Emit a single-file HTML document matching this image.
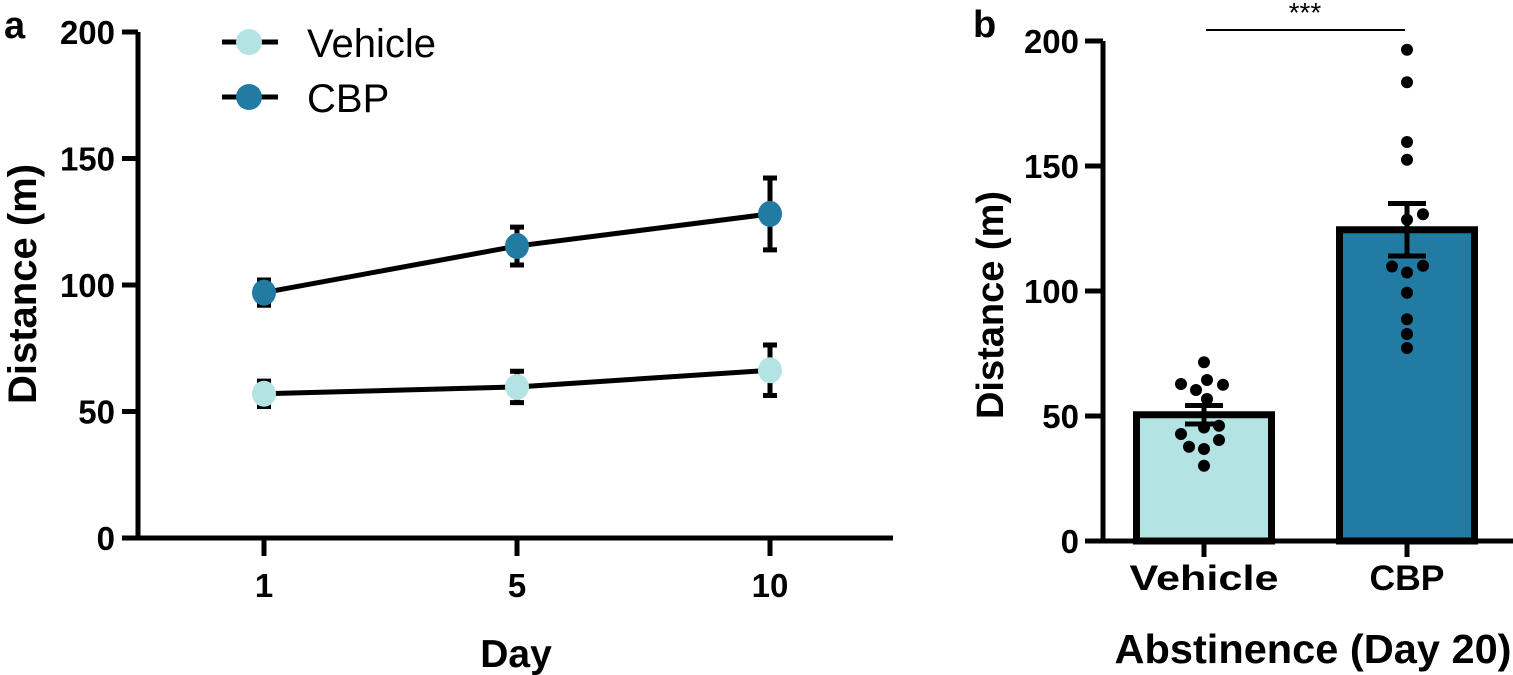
<!DOCTYPE html>
<html><head><meta charset="utf-8"><style>
html,body{margin:0;padding:0;background:#fff;}
svg{display:block;font-family:"Liberation Sans",Arial,sans-serif;}
</style></head><body>
<svg id="fig" width="1513" height="675" viewBox="0 0 1513 675">
<g id="pa"></g>
<g id="pb"></g>
</svg>
<script>
// Panel a data
const days = ["1","5","10"];
const vehicleMean = [57, 59.7, 66.3];
const vehicleSem = [5, 6.2, 10];
const cbpMean = [97, 115.4, 128.1];
const cbpSem = [5, 7.5, 14.2];
const yTicksA = [0, 50, 100, 150, 200];
// Panel b data
const groups = ["Vehicle", "CBP"];
const barMean = [50.5, 124.5];
const barSem = [3.7, 10.5];
const vehPoints = [71.5, 62.8, 64.4, 62.5, 60.4, 56.8, 45.4, 46.1, 42.8, 40.4, 37.7, 36.8, 30.1];
const cbpPoints = [196.5, 183.5, 159.6, 152.5, 130.7, 128.5, 109.8, 110.1, 107.4, 99.3, 88.7, 82.8, 77.2];
const yTicksB = [0, 50, 100, 150, 200];

const vehJit = [0, -23, 3, 19, -8, 3, 0, 15, -23, 15, -15, 0, 0];
const cbpJit = [0, 0, 0, 0, 16, 0, -15, 16, 0, 0, 0, 0, 0];
const C_VEH = "#b3e4e3", C_CBP = "#217ba3";
const NS = "http://www.w3.org/2000/svg";
function mk(parent, tag, attrs, text) {
  const e = document.createElementNS(NS, tag);
  for (const k in attrs) e.setAttribute(k, attrs[k]);
  if (text !== undefined) e.textContent = text;
  parent.appendChild(e);
  return e;
}
const pa = document.getElementById("pa");
const pb = document.getElementById("pb");

// ---------- Panel A ----------
const ax0 = 138, ay0 = 538, ay200 = 32;
const yA = v => ay0 - (v / 200) * (ay0 - ay200);
const xA = i => 264 + i * 253;
let t;
t = mk(pa, "text", {x: 4, y: 38, "font-size": 38, "font-weight": "bold"}, "a");


let l = mk(pa, "path", {d: `M${ax0},${ay200} V${ay0} H893`, stroke: "#000", "stroke-width": 5, fill: "none"});


yTicksA.forEach(v => {
  const y = yA(v);
  const tk = mk(pa, "line", {x1: 122, x2: ax0, y1: y, y2: y, stroke: "#000", "stroke-width": 5});
  
  
  const tl = mk(pa, "text", {x: 115, y: y + 12, "font-size": 33, "font-weight": "bold", "text-anchor": "end"}, String(v));
  
  
});
days.forEach((d, i) => {
  const x = xA(i);
  const tk = mk(pa, "line", {x1: x, x2: x, y1: ay0, y2: 556, stroke: "#000", "stroke-width": 5});
  
  
  const tl = mk(pa, "text", {x: x, y: 597, "font-size": 33, "font-weight": "bold", "text-anchor": "middle"}, d);
  
  
});
t = mk(pa, "text", {x: 516, y: 667, "font-size": 39, "font-weight": "bold", "text-anchor": "middle"}, "Day");


t = mk(pa, "text", {x: 0, y: 0, "font-size": 40, "font-weight": "bold", "text-anchor": "middle", transform: "translate(36,284) rotate(-90)"}, "Distance (m)");



function series(means, sems, color, name) {
  const g = mk(pa, "g", {});
  
  
  means.forEach((m, i) => {
    const x = xA(i), yt = yA(m + sems[i]), yb = yA(m - sems[i]);
    const e = mk(g, "path", {d: `M${x},${yt} V${yb} M${x-7},${yt} H${x+7} M${x-7},${yb} H${x+7}`, stroke: "#000", "stroke-width": 5, fill: "none"});
    
    
  });
  const pl = mk(g, "polyline", {points: means.map((m, i) => `${xA(i)},${yA(m)}`).join(" "), stroke: "#000", "stroke-width": 5, fill: "none"});
  
  
  means.forEach((m, i) => {
    const c = mk(g, "ellipse", {cx: xA(i), cy: yA(m), rx: 12, ry: 13, fill: color});
    
    
  });
}
series(vehicleMean, vehicleSem, C_VEH, "vehicle");
series(cbpMean, cbpSem, C_CBP, "cbp");

[["Vehicle", C_VEH, 42], ["CBP", C_CBP, 97]].forEach(([n, c, y]) => {
  const g = mk(pa, "g", {});
  
  
  mk(g, "line", {x1: 222, x2: 278, y1: y, y2: y, stroke: "#000", "stroke-width": 5});
  mk(g, "ellipse", {cx: 249, cy: y, rx: 13, ry: 13, fill: c});
  mk(g, "text", {x: 307, y: y + 15, "font-size": 40}, n);
});

// ---------- Panel B ----------
const bx0 = 1103, by0 = 541, by200 = 41;
const yB = v => by0 - (v / 200) * (by0 - by200);
const xB = i => 1204 + i * 203;
t = mk(pb, "text", {x: 973, y: 37, "font-size": 38, "font-weight": "bold"}, "b");


const cols = [C_VEH, C_CBP];
barMean.forEach((m, i) => {
  const x = xB(i), top = yB(m);
  const r = mk(pb, "rect", {x: x - 67.5, y: top, width: 135, height: by0 - top, fill: cols[i], stroke: "#000", "stroke-width": 7});
  
  
});
const allPts = [vehPoints, cbpPoints], allJit = [vehJit, cbpJit];
allPts.forEach((pts, i) => {
  pts.forEach((v, k) => {
    const c = mk(pb, "circle", {cx: xB(i) + allJit[i][k], cy: yB(v), r: 6, fill: "#000"});
    
    
  });
});
barMean.forEach((m, i) => {
  const x = xB(i), yt = yB(m + barSem[i]), yb = yB(m - barSem[i]);
  const e = mk(pb, "path", {d: `M${x},${yt} V${yb} M${x-19},${yt} H${x+19} M${x-19},${yb} H${x+19}`, stroke: "#000", "stroke-width": 5, fill: "none"});
  
  
});
l = mk(pb, "path", {d: `M${bx0},${by200} V${by0} H1513`, stroke: "#000", "stroke-width": 5, fill: "none"});


yTicksB.forEach(v => {
  const y = yB(v);
  const tk = mk(pb, "line", {x1: 1085, x2: bx0, y1: y, y2: y, stroke: "#000", "stroke-width": 5});
  
  
  const tl = mk(pb, "text", {x: 1079, y: y + 12, "font-size": 33, "font-weight": "bold", "text-anchor": "end"}, String(v));
  
  
});
const xLabW = [149, 75];
groups.forEach((g, i) => {
  const x = xB(i);
  const tk = mk(pb, "line", {x1: x, x2: x, y1: by0, y2: 557, stroke: "#000", "stroke-width": 5});
  
  
  const tl = mk(pb, "text", {x: x, y: 590, "font-size": 35, "font-weight": "bold", "text-anchor": "middle", textLength: xLabW[i], lengthAdjust: "spacingAndGlyphs"}, g);
  
  
});
t = mk(pb, "text", {x: 1313, y: 663, "font-size": 41, "font-weight": "bold", "text-anchor": "middle", textLength: 397, lengthAdjust: "spacingAndGlyphs"}, "Abstinence (Day 20)");


t = mk(pb, "text", {x: 0, y: 0, "font-size": 38, "font-weight": "bold", "text-anchor": "middle", "xml:space": "preserve", transform: "translate(1003,305) rotate(-90)"}, "Distance  (m)");


l = mk(pb, "line", {x1: 1206, x2: 1405, y1: 30, y2: 30, stroke: "#000", "stroke-width": 2});


t = mk(pb, "text", {x: 1305, y: 22, "font-size": 28, "text-anchor": "middle"}, "***");


</script>
</body></html>
